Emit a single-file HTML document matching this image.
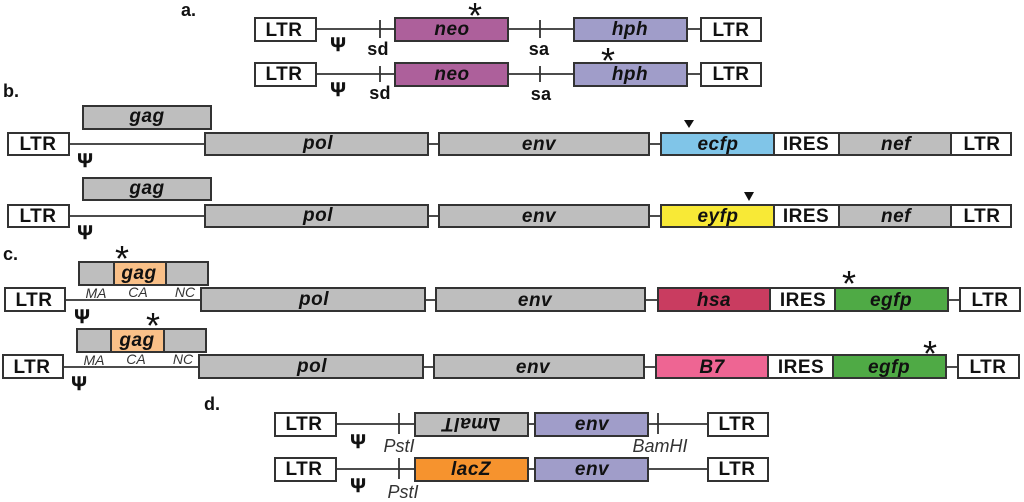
<!DOCTYPE html>
<html><head><meta charset="utf-8"><style>
html,body{margin:0;padding:0;background:#fff;width:1024px;height:502px;overflow:hidden}
svg{display:block;filter:blur(.3px)}
text{font-family:"Liberation Sans",sans-serif;fill:#111;text-anchor:middle}
.b{stroke:#333;stroke-width:2}
.l{stroke:#333;stroke-width:1.8;fill:none}
.n{font-size:19px;font-weight:bold;letter-spacing:.5px}
.g{font-size:19px;font-weight:bold;font-style:italic;letter-spacing:.5px}
.s{font-size:18px;font-weight:bold;letter-spacing:.3px}
.p{font-size:19px;font-weight:bold;stroke:#111;stroke-width:.5px}
.h{font-size:18px;font-weight:bold;text-anchor:start}
.i{font-size:14px;font-style:italic;fill:#333}
.e{font-size:18px;font-style:italic;fill:#333}
.a{font-size:36px;fill:#111}
</style></head><body>
<svg width="1024" height="502" viewBox="0 0 1024 502" xmlns="http://www.w3.org/2000/svg">
<rect width="1024" height="502" fill="#fff"/>
<text class="h" x="181" y="16">a.</text>
<text class="h" x="3" y="97">b.</text>
<text class="h" x="3" y="260">c.</text>
<text class="h" x="204" y="410">d.</text>

<!-- a -->
<path class="l" d="M316 29H395M508 29H574M687 29H701M380 20V38M540 20V38"/>
<rect class="b" x="255" y="18" width="61" height="23" fill="#fff"/>
<rect class="b" x="395" y="18" width="113" height="23" fill="#ad609b"/>
<rect class="b" x="574" y="18" width="113" height="23" fill="#a09dc9"/>
<rect class="b" x="701" y="18" width="60" height="23" fill="#fff"/>
<text class="n" x="284" y="36">LTR</text><text class="g" x="452" y="35">neo</text><text class="g" x="630" y="35">hph</text><text class="n" x="731" y="36">LTR</text>
<text class="p" x="338" y="51">Ψ</text><text class="s" x="378" y="55">sd</text><text class="s" x="539" y="55">sa</text>
<text class="a" x="475" y="28">*</text>

<path class="l" d="M316 74H395M508 74H574M687 74H701M380 66V82M540 66V82"/>
<rect class="b" x="255" y="63" width="61" height="23" fill="#fff"/>
<rect class="b" x="395" y="63" width="113" height="23" fill="#ad609b"/>
<rect class="b" x="574" y="63" width="113" height="23" fill="#a09dc9"/>
<rect class="b" x="701" y="63" width="60" height="23" fill="#fff"/>
<text class="n" x="284" y="80">LTR</text><text class="g" x="452" y="80">neo</text><text class="g" x="630" y="80">hph</text><text class="n" x="731" y="80">LTR</text>
<text class="p" x="338" y="96">Ψ</text><text class="s" x="380" y="99">sd</text><text class="s" x="541" y="100">sa</text>
<text class="a" x="608" y="73">*</text>

<!-- b1 -->
<path class="l" d="M69 144H205M428 144H439M649 144H661"/>
<rect class="b" x="83" y="106" width="128" height="23" fill="#bebebe"/>
<rect class="b" x="8" y="133" width="61" height="22" fill="#fff"/>
<rect class="b" x="205" y="133" width="223" height="22" fill="#bebebe"/>
<rect class="b" x="439" y="133" width="210" height="22" fill="#bebebe"/>
<rect class="b" x="661" y="133" width="113" height="22" fill="#80c5e8"/>
<rect class="b" x="774" y="133" width="65" height="22" fill="#fff"/>
<rect class="b" x="839" y="133" width="112" height="22" fill="#bebebe"/>
<rect class="b" x="951" y="133" width="60" height="22" fill="#fff"/>
<text class="g" x="147" y="122">gag</text><text class="n" x="38" y="150">LTR</text><text class="g" x="318" y="149">pol</text><text class="g" x="539" y="150">env</text><text class="g" x="718" y="150">ecfp</text><text class="n" x="806" y="150">IRES</text><text class="g" x="896" y="150">nef</text><text class="n" x="982" y="150">LTR</text>
<text class="p" x="85" y="167">Ψ</text>
<path d="M684 120H694L689 128Z" fill="#111"/>

<!-- b2 -->
<path class="l" d="M69 216H205M428 216H439M649 216H661"/>
<rect class="b" x="83" y="178" width="128" height="22" fill="#bebebe"/>
<rect class="b" x="8" y="205" width="61" height="22" fill="#fff"/>
<rect class="b" x="205" y="205" width="223" height="22" fill="#bebebe"/>
<rect class="b" x="439" y="205" width="210" height="22" fill="#bebebe"/>
<rect class="b" x="661" y="205" width="113" height="22" fill="#f8e936"/>
<rect class="b" x="774" y="205" width="65" height="22" fill="#fff"/>
<rect class="b" x="839" y="205" width="112" height="22" fill="#bebebe"/>
<rect class="b" x="951" y="205" width="60" height="22" fill="#fff"/>
<text class="g" x="147" y="194">gag</text><text class="n" x="38" y="222">LTR</text><text class="g" x="318" y="221">pol</text><text class="g" x="539" y="222">env</text><text class="g" x="718" y="222">eyfp</text><text class="n" x="806" y="222">IRES</text><text class="g" x="896" y="222">nef</text><text class="n" x="982" y="222">LTR</text>
<text class="p" x="85" y="239">Ψ</text>
<path d="M744 192H754L749 201Z" fill="#111"/>

<!-- c1 -->
<path class="l" d="M65 300H201M425 300H436M645 300H658M948 300H960"/>
<rect class="b" x="79" y="262" width="129" height="23" fill="#bebebe"/>
<rect class="b" x="114" y="262" width="52" height="23" fill="#f9c088"/>
<rect class="b" x="5" y="288" width="60" height="23" fill="#fff"/>
<rect class="b" x="201" y="288" width="224" height="23" fill="#bebebe"/>
<rect class="b" x="436" y="288" width="209" height="23" fill="#bebebe"/>
<rect class="b" x="658" y="288" width="112" height="23" fill="#c93c60"/>
<rect class="b" x="770" y="288" width="65" height="23" fill="#fff"/>
<rect class="b" x="835" y="288" width="113" height="23" fill="#4faa45"/>
<rect class="b" x="960" y="288" width="60" height="23" fill="#fff"/>
<text class="g" x="139" y="279">gag</text><text class="n" x="34" y="306">LTR</text><text class="g" x="314" y="305">pol</text><text class="g" x="535" y="306">env</text><text class="g" x="714" y="306">hsa</text><text class="n" x="803" y="306">IRES</text><text class="g" x="891" y="306">egfp</text><text class="n" x="990" y="306">LTR</text>
<text class="i" x="96" y="298">MA</text><text class="i" x="138" y="297">CA</text><text class="i" x="185" y="297">NC</text>
<text class="p" x="82" y="323">Ψ</text>
<text class="a" x="122" y="271">*</text><text class="a" x="849" y="296">*</text>

<!-- c2 -->
<path class="l" d="M63 367H199M423 367H434M644 367H656M946 367H958"/>
<rect class="b" x="77" y="329" width="129" height="23" fill="#bebebe"/>
<rect class="b" x="111" y="329" width="53" height="23" fill="#f9c088"/>
<rect class="b" x="3" y="355" width="60" height="23" fill="#fff"/>
<rect class="b" x="199" y="355" width="224" height="23" fill="#bebebe"/>
<rect class="b" x="434" y="355" width="210" height="23" fill="#bebebe"/>
<rect class="b" x="656" y="355" width="112" height="23" fill="#ee6593"/>
<rect class="b" x="768" y="355" width="65" height="23" fill="#fff"/>
<rect class="b" x="833" y="355" width="113" height="23" fill="#4faa45"/>
<rect class="b" x="958" y="355" width="61" height="23" fill="#fff"/>
<text class="g" x="137" y="346">gag</text><text class="n" x="32" y="373">LTR</text><text class="g" x="312" y="372">pol</text><text class="g" x="533" y="373">env</text><text class="g" x="712" y="373">B7</text><text class="n" x="801" y="373">IRES</text><text class="g" x="889" y="373">egfp</text><text class="n" x="988" y="373">LTR</text>
<text class="i" x="94" y="365">MA</text><text class="i" x="136" y="364">CA</text><text class="i" x="183" y="364">NC</text>
<text class="p" x="79" y="390">Ψ</text>
<text class="a" x="153" y="338">*</text><text class="a" x="930" y="366">*</text>

<!-- d1 -->
<path class="l" d="M336 424H415M528 424H535M648 424H708M399 413V434M658 413V434"/>
<rect class="b" x="275" y="413" width="61" height="23" fill="#fff"/>
<rect class="b" x="415" y="413" width="113" height="23" fill="#bebebe"/>
<rect class="b" x="535" y="413" width="113" height="23" fill="#a09dc9"/>
<rect class="b" x="708" y="413" width="60" height="23" fill="#fff"/>
<text class="n" x="304" y="430">LTR</text><text class="g" transform="rotate(180 471 424)" x="471" y="430">∆malT</text><text class="g" x="592" y="430">env</text><text class="n" x="737" y="430">LTR</text>
<text class="p" x="358" y="448">Ψ</text><text class="e" x="399" y="452">PstI</text><text class="e" x="660" y="452">BamHI</text>

<!-- d2 -->
<path class="l" d="M336 469H415M528 469H535M648 469H708M399 458V479"/>
<rect class="b" x="275" y="458" width="61" height="23" fill="#fff"/>
<rect class="b" x="415" y="458" width="113" height="23" fill="#f6932e"/>
<rect class="b" x="535" y="458" width="113" height="23" fill="#a09dc9"/>
<rect class="b" x="708" y="458" width="60" height="23" fill="#fff"/>
<text class="n" x="304" y="475">LTR</text><text class="g" x="471" y="475">lacZ</text><text class="g" x="592" y="475">env</text><text class="n" x="737" y="475">LTR</text>
<text class="p" x="358" y="492">Ψ</text><text class="e" x="403" y="498">PstI</text>
</svg>
</body></html>
